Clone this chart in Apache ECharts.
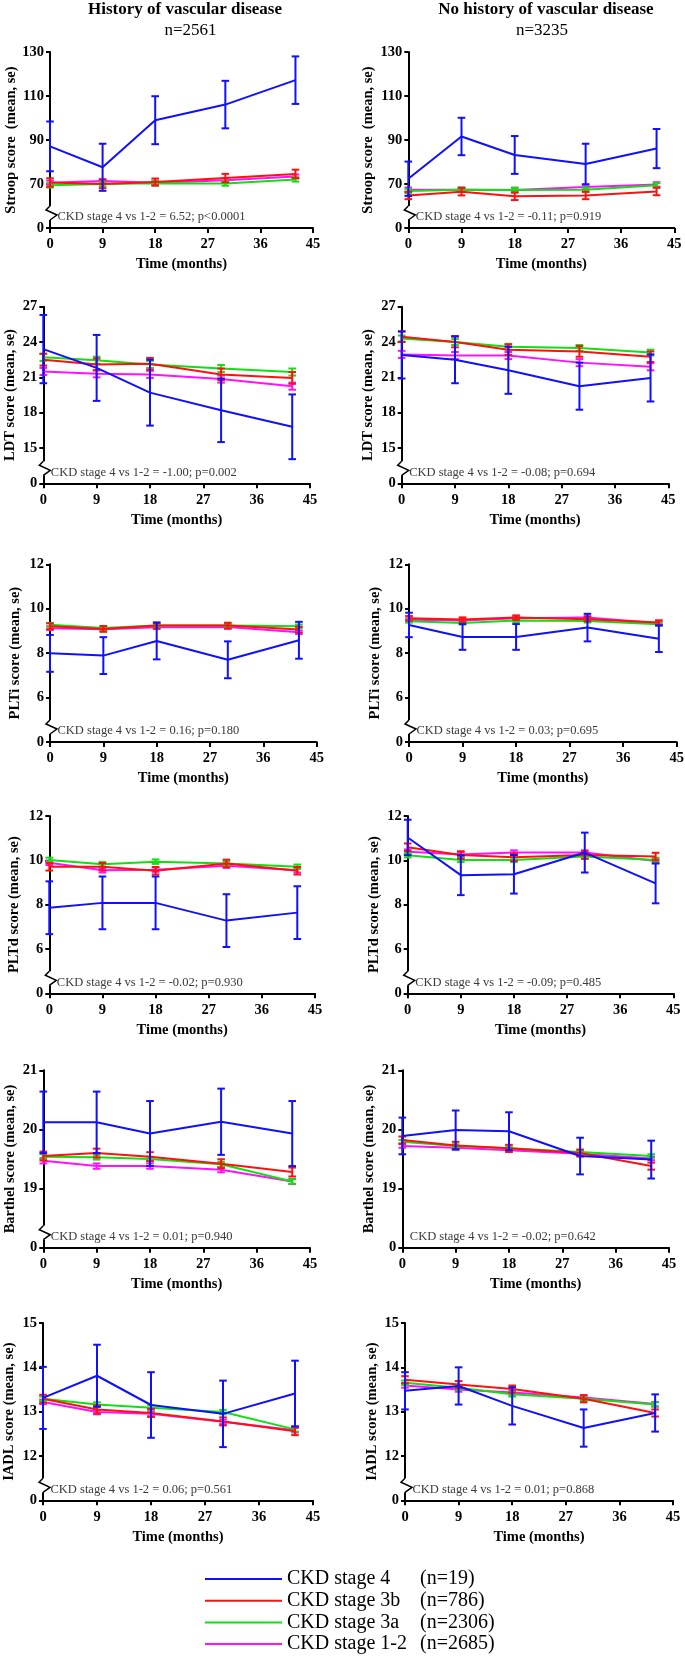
<!DOCTYPE html>
<html><head><meta charset="utf-8">
<script src="https://cdn.jsdelivr.net/npm/echarts@6/dist/echarts.min.js"></script>
<style>html,body{margin:0;padding:0;background:#fff}#c{width:685px;height:1660px}</style>
</head><body><div id="c"></div>
<script>
const FONT = '"Liberation Serif", "Times New Roman", serif';

// ---------- data ----------
const months = [0, 9, 18, 30, 42];
const xTicks = [0, 9, 18, 27, 36, 45];
const groupNames = ['CKD stage 4', 'CKD stage 3b', 'CKD stage 3a', 'CKD stage 1-2'];
const groupCounts = ['(n=19)', '(n=786)', '(n=2306)', '(n=2685)'];
const groupColors = ['#1010ff', '#ff1010', '#10e010', '#ff10ff'];
const columnTitles = ['History of vascular disease', 'No history of vascular disease'];
const columnN = ['n=2561', 'n=3235'];

// rows: [stage4, stage3b, stage3a, stage1-2]
const stroopHistMean = [[87.1, 77.6, 99.0, 106.1, 117.2], [70.7, 70.0, 70.9, 72.7, 74.6], [69.4, 70.0, 70.3, 70.2, 72.1], [70.6, 71.4, 70.6, 71.7, 73.4]];
const stroopHistSE   = [[11.3, 10.7, 10.9, 10.8, 10.8], [1.9, 1.9, 1.6, 1.9, 1.9], [1.0, 1.0, 1.0, 1.0, 1.0], [0.9, 0.9, 0.9, 0.9, 0.9]];
const stroopNoMean   = [[72.4, 91.6, 83.2, 79.1, 86.1], [64.8, 66.5, 64.4, 64.8, 66.6], [66.8, 67.4, 67.3, 67.4, 69.4], [67.4, 67.4, 67.3, 68.6, 69.8]];
const stroopNoSE     = [[7.8, 8.5, 8.6, 9.2, 8.9], [1.7, 1.7, 1.7, 1.7, 1.7], [1.0, 1.0, 1.0, 1.0, 1.0], [1.0, 1.0, 1.0, 1.0, 1.0]];

const ldtHistMean = [[23.4, 21.8, 19.7, 18.2, 16.8], [22.5, 22.1, 22.15, 21.25, 20.95], [22.7, 22.45, 22.1, 21.75, 21.45], [21.5, 21.3, 21.25, 20.85, 20.25]];
const ldtHistSE   = [[2.9, 2.8, 2.8, 2.7, 2.75], [0.5, 0.5, 0.5, 0.5, 0.5], [0.3, 0.3, 0.3, 0.3, 0.3], [0.3, 0.3, 0.3, 0.3, 0.3]];
const ldtNoMean   = [[22.9, 22.5, 21.6, 20.25, 20.95], [24.45, 24.0, 23.35, 23.2, 22.75], [24.3, 24.0, 23.6, 23.5, 23.1], [22.95, 22.85, 22.85, 22.25, 21.9]];
const ldtNoSE     = [[2.0, 2.0, 2.0, 2.0, 2.0], [0.45, 0.45, 0.45, 0.45, 0.45], [0.25, 0.25, 0.25, 0.25, 0.25], [0.3, 0.3, 0.3, 0.3, 0.3]];

const pltiHistMean = [[7.99, 7.89, 8.55, 7.70, 8.58], [9.21, 9.09, 9.24, 9.24, 9.06], [9.28, 9.13, 9.24, 9.25, 9.21], [9.12, 9.08, 9.17, 9.18, 8.94]];
const pltiHistSE   = [[0.83, 0.83, 0.83, 0.83, 0.83], [0.13, 0.13, 0.13, 0.13, 0.13], [0.08, 0.08, 0.08, 0.08, 0.08], [0.08, 0.08, 0.08, 0.08, 0.08]];
const pltiNoMean   = [[9.27, 8.73, 8.73, 9.15, 8.65], [9.57, 9.51, 9.60, 9.53, 9.38], [9.44, 9.36, 9.47, 9.45, 9.30], [9.50, 9.47, 9.57, 9.60, 9.35]];
const pltiNoSE     = [[0.55, 0.58, 0.58, 0.62, 0.6], [0.1, 0.1, 0.1, 0.1, 0.1], [0.07, 0.07, 0.07, 0.07, 0.07], [0.07, 0.07, 0.07, 0.07, 0.07]];

const pltdHistMean = [[7.86, 8.08, 8.08, 7.28, 7.64], [9.71, 9.71, 9.53, 9.86, 9.53], [10.02, 9.82, 9.94, 9.86, 9.71], [9.89, 9.55, 9.58, 9.76, 9.55]];
const pltdHistSE   = [[1.19, 1.19, 1.19, 1.19, 1.19], [0.17, 0.17, 0.17, 0.17, 0.17], [0.1, 0.1, 0.1, 0.1, 0.1], [0.1, 0.1, 0.1, 0.1, 0.1]];
const pltdNoMean   = [[11.03, 9.33, 9.37, 10.35, 8.96], [10.59, 10.24, 10.14, 10.24, 10.17], [10.23, 10.02, 10.02, 10.17, 10.02], [10.39, 10.26, 10.35, 10.35, 9.97]];
const pltdNoSE     = [[0.8, 0.9, 0.87, 0.9, 0.9], [0.17, 0.17, 0.17, 0.17, 0.17], [0.1, 0.1, 0.1, 0.1, 0.1], [0.1, 0.1, 0.1, 0.1, 0.1]];

const barthelHistMean = [[20.12, 20.12, 19.93, 20.13, 19.93], [19.55, 19.60, 19.54, 19.42, 19.28], [19.54, 19.53, 19.50, 19.41, 19.12], [19.47, 19.38, 19.38, 19.32, 19.12]];
const barthelHistSE   = [[0.52, 0.52, 0.55, 0.56, 0.55], [0.075, 0.075, 0.075, 0.075, 0.075], [0.04, 0.04, 0.04, 0.04, 0.04], [0.045, 0.045, 0.045, 0.045, 0.045]];
const barthelNoMean   = [[19.89, 19.99, 19.97, 19.55, 19.49], [19.82, 19.73, 19.68, 19.60, 19.38], [19.79, 19.72, 19.68, 19.62, 19.55], [19.72, 19.69, 19.65, 19.59, 19.51]];
const barthelNoSE     = [[0.31, 0.33, 0.32, 0.31, 0.32], [0.06, 0.06, 0.06, 0.06, 0.06], [0.03, 0.03, 0.03, 0.03, 0.03], [0.03, 0.03, 0.03, 0.03, 0.03]];

const iadlHistMean = [[13.31, 13.81, 13.15, 12.95, 13.41], [13.29, 13.05, 12.97, 12.78, 12.56], [13.29, 13.16, 13.09, 12.99, 12.60], [13.22, 12.99, 12.95, 12.77, 12.58]];
const iadlHistSE   = [[0.7, 0.7, 0.74, 0.75, 0.74], [0.09, 0.09, 0.09, 0.09, 0.09], [0.05, 0.05, 0.05, 0.05, 0.05], [0.05, 0.05, 0.05, 0.05, 0.05]];
const iadlNoMean   = [[13.47, 13.58, 13.13, 12.63, 12.97], [13.72, 13.61, 13.51, 13.29, 12.97], [13.65, 13.54, 13.39, 13.29, 13.16], [13.59, 13.50, 13.43, 13.32, 13.17]];
const iadlNoSE     = [[0.42, 0.42, 0.42, 0.42, 0.42], [0.08, 0.08, 0.08, 0.08, 0.08], [0.05, 0.05, 0.05, 0.05, 0.05], [0.05, 0.05, 0.05, 0.05, 0.05]];

// y-axis ticks (bottom tick sits below the axis break and is labelled 0)
const stroopTicks = [50, 70, 90, 110, 130];   const stroopTickLabels = ['0', '70', '90', '110', '130'];
const ldtTicks = [12, 15, 18, 21, 24, 27];    const ldtTickLabels = ['0', '15', '18', '21', '24', '27'];
const pltTicks = [4, 6, 8, 10, 12];           const pltTickLabels = ['0', '6', '8', '10', '12'];
const barthelTicks = [18, 19, 20, 21];        const barthelTickLabels = ['0', '19', '20', '21'];
const iadlTicks = [11, 12, 13, 14, 15];       const iadlTickLabels = ['0', '12', '13', '14', '15'];

const yNames = ['Stroop score  (mean, se)', 'LDT score (mean, se)', 'PLTi score (mean, se)', 'PLTd score (mean, se)', 'Barthel score (mean, se)', 'IADL score (mean, se)'];
const notes = [
  'CKD stage 4 vs 1-2 = 6.52; p<0.0001', 'CKD stage 4 vs 1-2 = -0.11; p=0.919',
  'CKD stage 4 vs 1-2 = -1.00; p=0.002', 'CKD stage 4 vs 1-2 = -0.08; p=0.694',
  'CKD stage 4 vs 1-2 = 0.16; p=0.180', 'CKD stage 4 vs 1-2 = 0.03; p=0.695',
  'CKD stage 4 vs 1-2 = -0.02; p=0.930', 'CKD stage 4 vs 1-2 = -0.09; p=0.485',
  'CKD stage 4 vs 1-2 = 0.01; p=0.940', 'CKD stage 4 vs 1-2 = -0.02; p=0.642',
  'CKD stage 4 vs 1-2 = 0.06; p=0.561', 'CKD stage 4 vs 1-2 = 0.01; p=0.868'
];

// ---------- layout ----------
const rowTop = [52, 306.7, 564.3, 816, 1070.3, 1323];
const rowBottom = [228, 483.3, 742, 993.3, 1247.7, 1500.3];
const leftX = [[50, 313], [43.3, 310], [50, 316.7], [49.3, 315], [43.3, 310], [43, 313]];
const rightX = [[408.3, 674.3], [401.7, 668.3], [409, 676.7], [407.7, 673.3], [402.3, 669], [405, 673]];
const nameGapL = [31.5, 26, 27.5, 28, 26, 26.5];
const nameGapR = [32.5, 26, 26.5, 25.5, 25.5, 25.5];

const panels = [
  [stroopHistMean, stroopHistSE, stroopTicks, stroopTickLabels], [stroopNoMean, stroopNoSE, stroopTicks, stroopTickLabels],
  [ldtHistMean, ldtHistSE, ldtTicks, ldtTickLabels], [ldtNoMean, ldtNoSE, ldtTicks, ldtTickLabels],
  [pltiHistMean, pltiHistSE, pltTicks, pltTickLabels], [pltiNoMean, pltiNoSE, pltTicks, pltTickLabels],
  [pltdHistMean, pltdHistSE, pltTicks, pltTickLabels], [pltdNoMean, pltdNoSE, pltTicks, pltTickLabels],
  [barthelHistMean, barthelHistSE, barthelTicks, barthelTickLabels], [barthelNoMean, barthelNoSE, barthelTicks, barthelTickLabels],
  [iadlHistMean, iadlHistSE, iadlTicks, iadlTickLabels], [iadlNoMean, iadlNoSE, iadlTicks, iadlTickLabels]
];
const noBreak = [9]; // panel without zigzag

function renderErr(params, api) {
  const x = api.value(0), lo = api.value(1), hi = api.value(2);
  const a = api.coord([x, hi]), b = api.coord([x, lo]);
  const w = 3.8;
  const style = { stroke: api.visual('color'), lineWidth: 2, fill: null };
  return { type: 'group', children: [
    { type: 'line', shape: { x1: a[0], y1: a[1], x2: b[0], y2: b[1] }, style },
    { type: 'line', shape: { x1: a[0] - w, y1: a[1], x2: a[0] + w, y2: a[1] }, style },
    { type: 'line', shape: { x1: b[0] - w, y1: b[1], x2: b[0] + w, y2: b[1] }, style }
  ]};
}

const grids = [], xAxes = [], yAxes = [], series = [], graphics = [];
const drawOrder = [3, 2, 1, 0];
const axisFont = { fontFamily: FONT, fontWeight: 'bold', fontSize: 14.5, color: '#000' };

panels.forEach((p, i) => {
  const [mean, se, ticks, labels] = p;
  const row = Math.floor(i / 2), col = i % 2;
  const [x0, x1] = col === 0 ? leftX[row] : rightX[row];
  const top = rowTop[row], bottom = rowBottom[row];
  grids.push({ left: x0, top: top, width: x1 - x0, height: bottom - top, containLabel: false, outerBoundsMode: 'none' });
  xAxes.push({
    gridIndex: i, type: 'value', min: xTicks[0], max: xTicks[xTicks.length - 1], interval: xTicks[1] - xTicks[0],
    name: 'Time (months)', nameLocation: 'middle', nameGap: 29, nameTextStyle: axisFont,
    axisLine: { show: true, lineStyle: { color: '#000', width: 2 } },
    axisTick: { show: true, length: 5, lineStyle: { color: '#000', width: 2 } },
    axisLabel: { ...axisFont, margin: 9, formatter: v => String(v) },
    splitLine: { show: false }
  });
  yAxes.push({
    gridIndex: i, type: 'value', min: ticks[0], max: ticks[ticks.length - 1], interval: ticks[1] - ticks[0],
    name: yNames[row], nameLocation: 'middle', nameRotate: 90, nameGap: col === 0 ? nameGapL[row] : nameGapR[row],
    nameTextStyle: axisFont,
    axisLine: { show: true, onZero: false, lineStyle: { color: '#000', width: 2 } },
    axisTick: { show: true, length: 4, lineStyle: { color: '#000', width: 2 } },
    axisLabel: { ...axisFont, margin: 6, formatter: v => {
      const k = ticks.findIndex(t => Math.abs(t - v) < 1e-6); return k >= 0 ? labels[k] : ''; } },
    splitLine: { show: false }
  });
  drawOrder.forEach((g, k) => {
    series.push({
      type: 'line', name: groupNames[g], xAxisIndex: i, yAxisIndex: i, silent: true,
      data: months.map((m, j) => [m, mean[g][j]]), symbol: 'none', z: 2 + k,
      lineStyle: { color: groupColors[g], width: 2 }, itemStyle: { color: groupColors[g] }
    });
    series.push({
      type: 'custom', name: 'err ' + groupNames[g], xAxisIndex: i, yAxisIndex: i, silent: true, z: 2 + k,
      data: months.map((m, j) => [m, mean[g][j] - se[g][j], mean[g][j] + se[g][j]]),
      encode: { x: 0, y: [1, 2] }, renderItem: renderErr, itemStyle: { color: groupColors[g] }
    });
  });
  // annotation
  graphics.push({ type: 'text', x: x0 + 7.5, y: bottom - 11, z: 100,
    style: { text: notes[i], font: `12.5px ${FONT}`, fill: '#3a3a3a', align: 'left', verticalAlign: 'middle' } });
  // axis break zigzag
  if (!noBreak.includes(i)) {
    const yz = bottom - 14;
    graphics.push({ type: 'rect', z: 100, shape: { x: x0 - 2.5, y: yz - 8, width: 5, height: 14 }, style: { fill: '#fff' } });
    graphics.push({ type: 'polyline', z: 101, shape: { points: [[x0, yz - 8], [x0 - 4, yz - 4], [x0 + 7, yz + 1], [x0, yz + 6]] },
      style: { stroke: '#000', lineWidth: 1.5, fill: null } });
  }
});

// column titles
graphics.push({ type: 'text', x: 185, y: 10, z: 100, style: { text: columnTitles[0], font: `bold 17px ${FONT}`, fill: '#000', align: 'center', verticalAlign: 'middle' } });
graphics.push({ type: 'text', x: 190.5, y: 31, z: 100, style: { text: columnN[0], font: `17px ${FONT}`, fill: '#000', align: 'center', verticalAlign: 'middle' } });
graphics.push({ type: 'text', x: 546, y: 10, z: 100, style: { text: columnTitles[1], font: `bold 17px ${FONT}`, fill: '#000', align: 'center', verticalAlign: 'middle' } });
graphics.push({ type: 'text', x: 542, y: 31, z: 100, style: { text: columnN[1], font: `17px ${FONT}`, fill: '#000', align: 'center', verticalAlign: 'middle' } });

const chart = echarts.init(document.getElementById('c'), null, { renderer: 'canvas' });
chart.setOption({
  backgroundColor: '#fff',
  animation: false,
  grid: grids, xAxis: xAxes, yAxis: yAxes, series: series,
  legend: {
    data: groupNames.map(n => ({ name: n })),
    orient: 'vertical', left: 200, top: 1564, itemWidth: 77, itemHeight: 2, icon: 'rect', itemGap: 1.7,
    selectedMode: false,
    formatter: name => `{a|${name}}{b|${groupCounts[groupNames.indexOf(name)]}}`,
    textStyle: { rich: {
      a: { width: 133, fontSize: 20, fontFamily: FONT, color: '#000', lineHeight: 22 },
      b: { fontSize: 20, fontFamily: FONT, color: '#000', lineHeight: 22 }
    } }
  },
  graphic: { elements: graphics }
});
</script>
</body></html>
